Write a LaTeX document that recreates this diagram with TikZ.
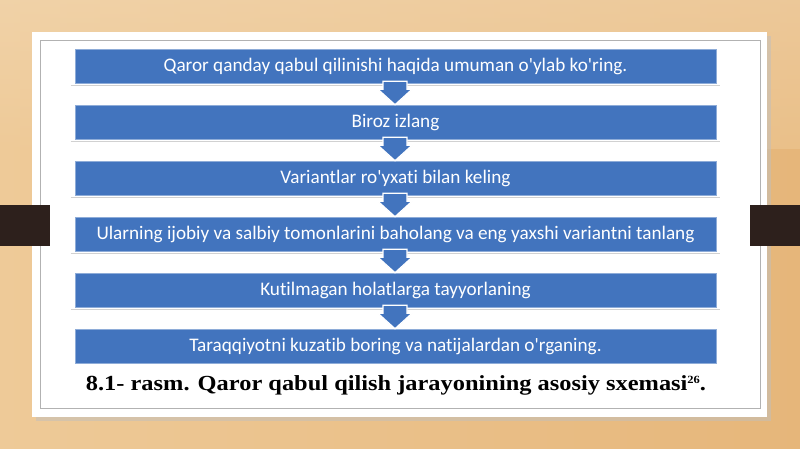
\documentclass[tikz,border=0pt]{standalone}
\usepackage{fontspec}
\setmainfont{Liberation Serif}
\newfontfamily\boxfont[Ligatures={NoCommon}]{Carlito}
\usetikzlibrary{calc}
\definecolor{bgA}{RGB}{238,202,152}
\definecolor{bgB}{RGB}{230,182,122}
\definecolor{boxblue}{RGB}{66,116,190}
\definecolor{barbrown}{RGB}{45,32,28}
\tikzset{
  stepbox/.style={fill=boxblue, draw=boxblue!60!white, line width=0.6pt,
    minimum width=641pt, minimum height=34pt, inner sep=0pt,
    text=white, font=\boxfont\fontsize{19.2}{22}\selectfont},
  flowarrow/.style={fill=boxblue, draw=white, line width=1.2pt, line join=miter},
  underline/.style={draw=black!18, line width=1pt}
}
\begin{document}
\begin{tikzpicture}[x=1pt,y=1pt]
\useasboundingbox (0,0) rectangle (800,449);
% background
\shade[left color=bgA, right color=bgB] (0,0) rectangle (800,449);
\shade[top color=bgA!70!white, bottom color=bgA, opacity=0.5] (0,300) rectangle (800,449);
% slide panel with shadow
\fill[black!25, opacity=0.5] (36,28) rectangle (771,413);
\fill[white] (32,32) rectangle (767,417);
\draw[black!30, line width=0.8pt] (40,41) rectangle (760,409);
% side bars
\fill[barbrown] (0,203) rectangle (50,244);
\fill[barbrown] (750,203) rectangle (800,244);
% boxes
\node[stepbox] (b1) at (395.5,383) {Qaror qanday qabul qilinishi haqida umuman o'ylab ko'ring.};
\node[stepbox] (b2) at (395.5,327) {Biroz izlang};
\node[stepbox] (b3) at (395.5,271) {Variantlar ro'yxati bilan keling};
\node[stepbox] (b4) at (395.5,215) {Ularning ijobiy va salbiy tomonlarini baholang va eng yaxshi variantni tanlang};
\node[stepbox] (b5) at (395.5,159) {Kutilmagan holatlarga tayyorlaning};
\node[stepbox] (b6) at (395.5,103) {Taraqqiyotni kuzatib boring va natijalardan o'rganing.};
% light lines under boxes
\foreach \b in {b1,b2,b3,b4,b5}{
  \draw[underline] ($(\b.south west)+(-4,-2)$) -- ($(\b.south east)+(4,-2)$);
}
% arrows between boxes
\foreach \a/\b in {b1/b2,b2/b3,b3/b4,b4/b5,b5/b6}{
  \coordinate (t) at ($(\a.south)+(-0.5,0)$);
  \coordinate (h) at ($(\b.north)+(-0.5,0)$);
  \draw[flowarrow] ($(t)+(-12,2)$) -- ($(t)+(-12,-6)$) -- ($(t)+(-17,-6)$) -- (h)
     -- ($(t)+(17,-6)$) -- ($(t)+(12,-6)$) -- ($(t)+(12,2)$) -- cycle;
}
% caption
\node[anchor=base, xscale=1.135, font=\bfseries\fontsize{21.5}{24}\selectfont, inner sep=0pt] (cap) at (396,58)
  {8.1- rasm. Qaror qabul qilish jarayonining asosiy sxemasi\raisebox{7pt}{\fontsize{11}{12}\selectfont 26}.};
\end{tikzpicture}
\end{document}
